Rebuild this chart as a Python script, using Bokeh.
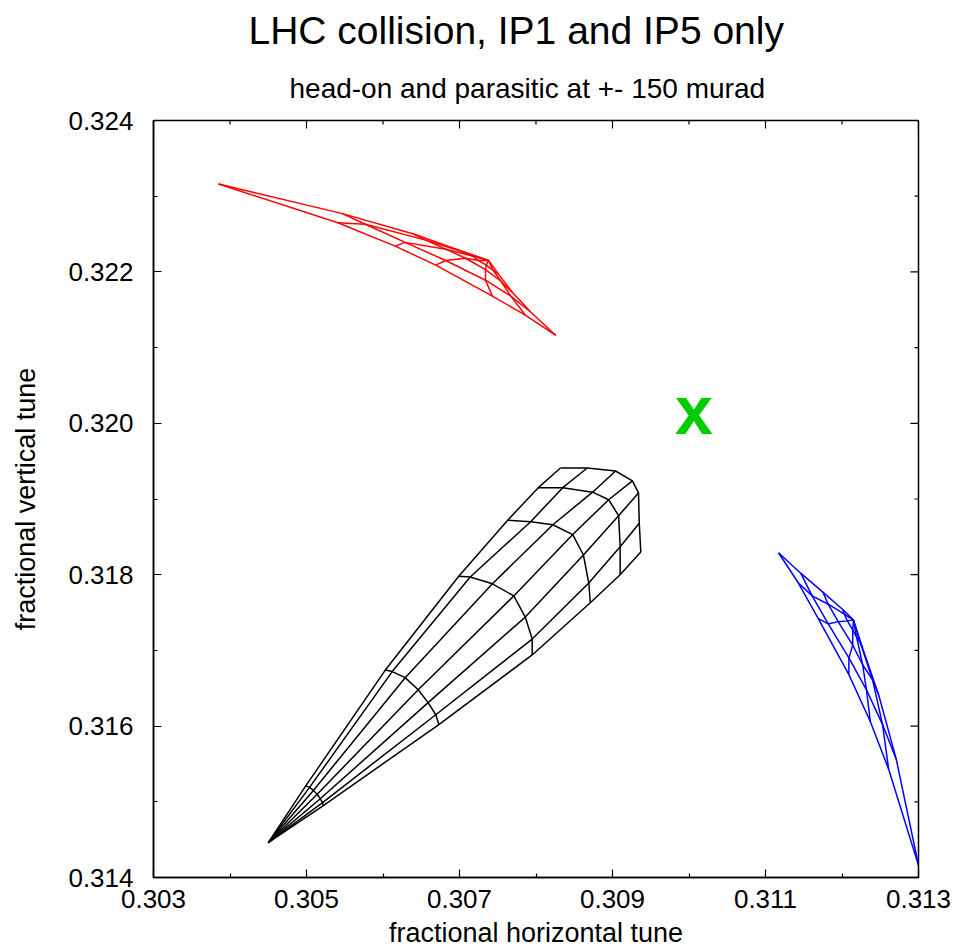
import math
from bokeh.plotting import figure
from bokeh.models import FixedTicker, PrintfTickFormatter, Title, Range1d
from bokeh.embed import file_html
from bokeh.resources import INLINE
from bokeh.core.properties import value

# ---------------- data ----------------
TITLE = "LHC collision, IP1 and IP5 only"
SUBTITLE = "head-on and parasitic at +- 150 murad"
X_LABEL = "fractional horizontal tune"
Y_LABEL = "fractional vertical tune"

X_MAJOR = [0.303, 0.305, 0.307, 0.309, 0.311, 0.313]
X_MINOR = [0.304, 0.306, 0.308, 0.310, 0.312]
Y_MAJOR = [0.314, 0.316, 0.318, 0.320, 0.322, 0.324]
Y_MINOR = [0.315, 0.317, 0.319, 0.321, 0.323]

# nominal working point
NOMINAL_QX = [0.310]
NOMINAL_QY = [0.320]

# black footprint: zero-amplitude tune, then one ring per amplitude (7 angles each)
BLACK_APEX = (0.30450, 0.31446)
BLACK_QX = [
    [0.30499, 0.30504, 0.30509, 0.30514, 0.30518, 0.30521, 0.30522],
    [0.30603, 0.30612, 0.30629, 0.30646, 0.30659, 0.30669, 0.30673],
    [0.30699, 0.30714, 0.30743, 0.30771, 0.30786, 0.30795, 0.30795],
    [0.30763, 0.30793, 0.30822, 0.30848, 0.30862, 0.30869, 0.30871],
    [0.30803, 0.30835, 0.30874, 0.30895, 0.30908, 0.30910, 0.30910],
    [0.30832, 0.30867, 0.30904, 0.30926, 0.30934, 0.30935, 0.30937],
]
BLACK_QY = [
    [0.31521, 0.31519, 0.31515, 0.31510, 0.31504, 0.31499, 0.31495],
    [0.31674, 0.31672, 0.31664, 0.31648, 0.31631, 0.31615, 0.31602],
    [0.31798, 0.31797, 0.31788, 0.31772, 0.31744, 0.31715, 0.31694],
    [0.31872, 0.31870, 0.31866, 0.31853, 0.31826, 0.31789, 0.31763],
    [0.31915, 0.31915, 0.31909, 0.31899, 0.31878, 0.31837, 0.31800],
    [0.31941, 0.31941, 0.31937, 0.31924, 0.31908, 0.31868, 0.31830],
]

# red footprint
RED_APEX = (0.30738, 0.32215)
RED_QX = [
    [0.30704, 0.30709, 0.30717, 0.30725, 0.30735, 0.30744, 0.30751],
    [0.30640, 0.30656, 0.30682, 0.30708, 0.30734, 0.30754, 0.30769],
    [0.30547, 0.30577, 0.30629, 0.30682, 0.30734, 0.30767, 0.30793],
    [0.30385, 0.30541, 0.30616, 0.30669, 0.30743, 0.30786, 0.30826],
]
RED_QY = [
    [0.32227, 0.32225, 0.32221, 0.32215, 0.32209, 0.32202, 0.32197],
    [0.32250, 0.32242, 0.32230, 0.32218, 0.32203, 0.32188, 0.32173],
    [0.32277, 0.32263, 0.32239, 0.32215, 0.32189, 0.32168, 0.32147],
    [0.32316, 0.32265, 0.32234, 0.32209, 0.32168, 0.32143, 0.32116],
]

# blue footprint
BLUE_APEX = (0.31215, 0.31740)
BLUE_QX = [
    [0.31201, 0.31203, 0.31207, 0.31214, 0.31219, 0.31224, 0.31227],
    [0.31175, 0.31182, 0.31195, 0.31214, 0.31227, 0.31240, 0.31248],
    [0.31146, 0.31161, 0.31182, 0.31209, 0.31232, 0.31253, 0.31271],
    [0.31117, 0.31143, 0.31169, 0.31209, 0.31237, 0.31261, 0.31300],
]
BLUE_QY = [
    [0.31754, 0.31748, 0.31739, 0.31727, 0.31718, 0.31710, 0.31703],
    [0.31777, 0.31761, 0.31738, 0.31707, 0.31681, 0.31661, 0.31641],
    [0.31802, 0.31772, 0.31735, 0.31690, 0.31648, 0.31602, 0.31556],
    [0.31829, 0.31789, 0.31742, 0.31668, 0.31606, 0.31543, 0.31416],
]


def mesh_lines(apex, qx_rings, qy_rings):
    """Amplitude rings plus the angle spokes that start at the apex."""
    xs, ys = [], []
    for rx, ry in zip(qx_rings, qy_rings):
        xs.append(list(rx))
        ys.append(list(ry))
    n = len(qx_rings[0])
    for j in range(n):
        xs.append([apex[0]] + [r[j] for r in qx_rings])
        ys.append([apex[1]] + [r[j] for r in qy_rings])
    return xs, ys


FONT = "Liberation Sans"

p = figure(
    width=955, height=950,
    x_range=Range1d(X_MAJOR[0], X_MAJOR[-1]),
    y_range=Range1d(Y_MAJOR[0], Y_MAJOR[-1]),
    output_backend="svg", toolbar_location=None,
    min_border_left=153, min_border_right=37,
    min_border_top=120, min_border_bottom=72,
    background_fill_color="white", border_fill_color="white",
)
p.grid.visible = False
p.outline_line_color = "black"
p.outline_line_width = 1.5

xt = FixedTicker(ticks=X_MAJOR, minor_ticks=X_MINOR)
yt = FixedTicker(ticks=Y_MAJOR, minor_ticks=Y_MINOR)


def style_axis(ax):
    ax.axis_line_color = "black"
    ax.axis_line_width = 1.5
    ax.major_tick_in = 8
    ax.major_tick_out = 0
    ax.minor_tick_in = 4
    ax.minor_tick_out = 0
    ax.major_tick_line_width = 1.2
    ax.minor_tick_line_width = 1.2
    ax.major_tick_line_color = "black"
    ax.minor_tick_line_color = "black"
    ax.formatter = PrintfTickFormatter(format="%.3f")
    ax.major_label_text_font = FONT
    ax.major_label_text_font_size = "26px"
    ax.major_label_text_color = "black"
    ax.axis_label_text_font = FONT
    ax.axis_label_text_font_size = "27px"
    ax.axis_label_text_font_style = "normal"
    ax.axis_label_text_color = "black"


xa = p.xaxis[0]
xa.ticker = xt
style_axis(xa)
xa.axis_label = X_LABEL
xa.major_label_standoff = 12
xa.axis_label_standoff = 7

ya = p.yaxis[0]
ya.ticker = yt
style_axis(ya)
ya.axis_label = Y_LABEL
ya.major_label_standoff = 20
ya.axis_label_standoff = 24

# mirrored ticks on the top and right frame edges
TICK_COLOR = "black"
p.ray(x=X_MAJOR, y=[Y_MAJOR[-1]] * len(X_MAJOR), length=8, angle=-math.pi / 2,
      length_units="screen", line_color=TICK_COLOR, line_width=1.2)
p.ray(x=X_MINOR, y=[Y_MAJOR[-1]] * len(X_MINOR), length=4, angle=-math.pi / 2,
      length_units="screen", line_color=TICK_COLOR, line_width=1.2)
p.ray(x=[X_MAJOR[-1]] * len(Y_MAJOR), y=Y_MAJOR, length=8, angle=math.pi,
      length_units="screen", line_color=TICK_COLOR, line_width=1.2)
p.ray(x=[X_MAJOR[-1]] * len(Y_MINOR), y=Y_MINOR, length=4, angle=math.pi,
      length_units="screen", line_color=TICK_COLOR, line_width=1.2)

sub = Title(text=SUBTITLE, align="left", offset=136, vertical_align="top",
            text_font=FONT, text_font_size="28px", text_font_style="normal",
            text_color="black", standoff=30)
p.add_layout(sub, "above")

p.title.text = TITLE
p.title.align = "left"
p.title.offset = 95
p.title.vertical_align = "top"
p.title.text_font = FONT
p.title.text_font_size = "39px"
p.title.text_font_style = "normal"
p.title.text_color = "black"
p.title.standoff = 8

for apex, qx, qy, col in [(BLACK_APEX, BLACK_QX, BLACK_QY, "black"),
                          (RED_APEX, RED_QX, RED_QY, "#ff0000"),
                          (BLUE_APEX, BLUE_QX, BLUE_QY, "#0000ff")]:
    xs, ys = mesh_lines(apex, qx, qy)
    p.multi_line(xs, ys, line_color=col, line_width=1.5)

p.text(x=NOMINAL_QX, y=NOMINAL_QY, text=["x"], text_font=value(FONT),
       text_font_style="bold", text_font_size="68px", text_color="#00cc00",
       text_align="center", text_baseline="middle", x_offset=5, y_offset=-13)

open("out.html", "w").write(file_html(p, INLINE))
